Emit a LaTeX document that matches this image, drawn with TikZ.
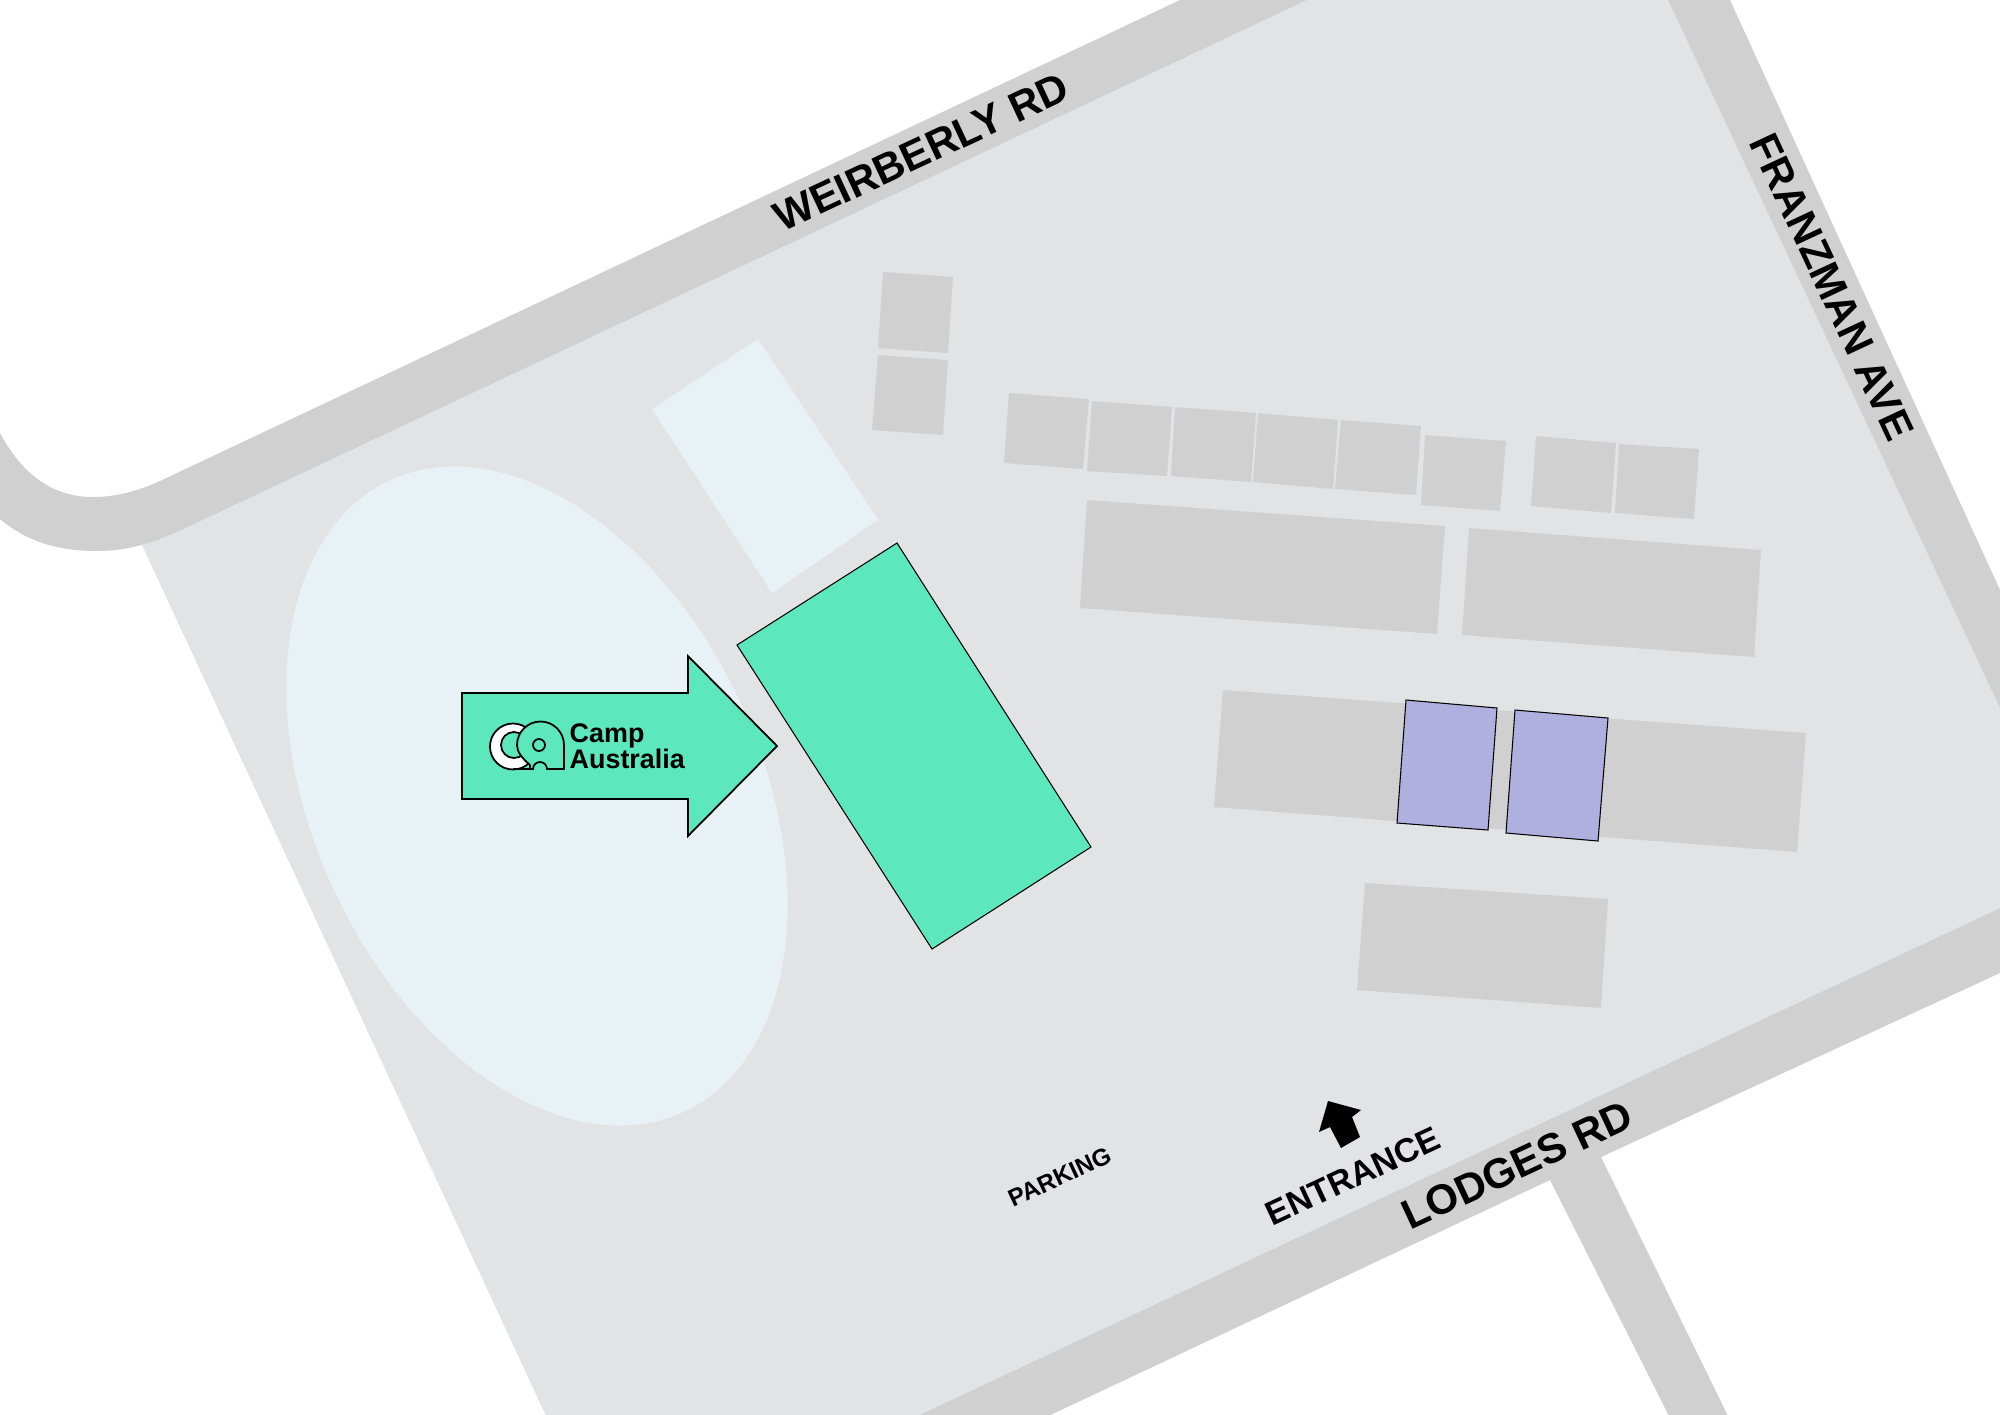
\documentclass[tikz,border=0pt]{standalone}
\usepackage{fontspec}
\setmainfont{Liberation Sans}
\definecolor{sitegrey}{HTML}{E1E3E5}
\definecolor{roadgrey}{HTML}{D0D0D0}
\definecolor{lakeblue}{HTML}{E8F2F6}
\definecolor{campgreen}{HTML}{5CE8BC}
\definecolor{sitepurple}{HTML}{AFB0E0}
\tikzset{
	road/.style={fill=roadgrey},
	building/.style={fill=roadgrey},
	outlined/.style={draw=black,line width=0.3pt},
	logoline/.style={draw=black,line width=0.5pt},
	logotext/.style={anchor=base west,inner sep=0pt,font=\bfseries\fontsize{7.65}{9}\selectfont},
	roadname/.style={font=\bfseries\fontsize{11.9}{14}\selectfont,text=black,inner sep=0pt},
}
\begin{document}
\begin{tikzpicture}[x=0.01cm,y=-0.01cm]
	\useasboundingbox (0,0) rectangle (2000,1414);
	% Draw site and roads
	\fill[sitegrey] (142,545) -- (300,473) -- (1307,0) -- (1668,0) -- (2000,708) -- (2000,908) -- (913,1418) -- (547,1418) -- cycle;
	\fill[road] (1180,0) -- (1307,0) -- (177,532) .. controls (150,544) and (125,551) .. (97,551) .. controls (55,551) and (25,540) .. (0,519) -- (0,433) .. controls (22,474) and (52,497) .. (93,497) .. controls (118,497) and (140,490) .. (160,481) -- cycle;
	\fill[road] (1668,0) -- (1730,0) -- (2000,590) -- (2000,708) -- cycle;
	\fill[road] (913,1418) -- (2000,908) -- (2000,973) -- (1601,1157) -- (1729,1418) -- (1670,1418) -- (1550,1180) -- (1044,1418) -- cycle;
	% Draw lake and lot
	\fill[lakeblue] (537,796) ellipse [x radius=3.48cm, y radius=2.237cm, rotate=-65];
	\fill[lakeblue] (758,339) -- (878,520) -- (772,593) -- (652,409) -- cycle;
	% Draw buildings
	\foreach \a/\b/\c/\d in {
		{883,272}/{953,277}/{948,353}/{878,348},
		{878,355}/{948,360}/{943,435}/{872,430},
		{1009,393}/{1089,399}/{1083,469}/{1004,463},
		{1092,401}/{1172,407}/{1167,476}/{1087,471},
		{1175,407}/{1256,413}/{1251,482}/{1171,476},
		{1258,413}/{1338,420}/{1333,489}/{1253,482},
		{1341,420}/{1421,426}/{1416,495}/{1335,489},
		{1425,435}/{1506,441}/{1500,511}/{1421,505},
		{1536,436}/{1616,443}/{1611,513}/{1531,506},
		{1619,444}/{1699,449}/{1694,519}/{1615,513},
		{1087,500}/{1445,526}/{1437,634}/{1080,608},
		{1469,528}/{1761,550}/{1754,657}/{1462,635},
		{1223,690}/{1806,733}/{1797,852}/{1214,807},
		{1365,883}/{1608,899}/{1601,1008}/{1357,990}}
		\fill[building] (\a) -- (\b) -- (\c) -- (\d) -- cycle;
	\foreach \a/\b/\c/\d in {
		{1406,700}/{1497,708}/{1488,830}/{1397,823},
		{1515,710}/{1608,718}/{1598,841}/{1506,833}}
		\filldraw[outlined,fill=sitepurple] (\a) -- (\b) -- (\c) -- (\d) -- cycle;
	\filldraw[outlined,fill=campgreen] (897,543) -- (1091,847) -- (932,949) -- (737,645) -- cycle;
	% Draw marker arrow and logo
	\filldraw[logoline,fill=campgreen] (462,693) -- (688,693) -- (688,656) -- (777,746) -- (688,836) -- (688,799) -- (462,799) -- cycle;
	\filldraw[logoline,fill=white] (513,746.5) circle [radius=0.23cm];
	\filldraw[logoline,fill=campgreen] (514,745) circle [radius=0.13cm];
	\filldraw[logoline,fill=campgreen] (530,765) .. controls (522,758) and (517,752) .. (517,745) arc [start angle=180, end angle=360, radius=23.5] -- (564,769) -- (547,769) arc [start angle=0, end angle=-180, radius=7] -- (513,769) -- (530,769) -- cycle;
	\draw[logoline] (539,745) circle [radius=0.06cm];
	\node[logotext] (camp) at (569,742) {Camp};
	\node[logotext] (australia) at (569,768) {Australia};
	% Road names and labels
	\node[roadname,rotate=25] (weirberly) at (921,152) {WEIRBERLY RD};
	\node[roadname,rotate=-65] (franzman) at (1832,287) {FRANZMAN AVE};
	\node[roadname,rotate=25] (lodges) at (1517,1165) {LODGES RD};
	\node[roadname,rotate=25,font=\bfseries\fontsize{9.6}{12}\selectfont] (entrance) at (1353,1176) {ENTRANCE};
	\node[roadname,rotate=25,font=\bfseries\fontsize{6.9}{9}\selectfont] (parking) at (1060,1177) {PARKING};
	\fill[black] (1328,1101) -- (1361,1110) -- (1352,1117) -- (1360,1137) -- (1341,1148) -- (1330,1127) -- (1319,1132) -- cycle;
\end{tikzpicture}
\end{document}
